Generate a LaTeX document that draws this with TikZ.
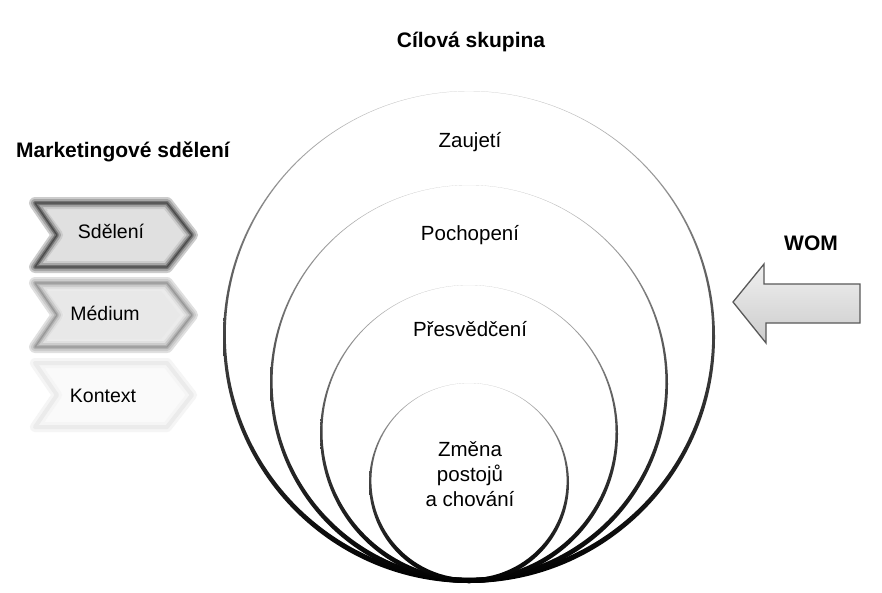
\documentclass[tikz,border=0pt]{standalone}
\usepackage{fontspec}
\setmainfont{Liberation Sans}
\newcommand\chevpath[1]{(35,#1) -- (167,#1) -- (192,#1+32) -- (167,#1+64) -- (35,#1+64) -- (57,#1+32) -- cycle}
\begin{document}
\begin{tikzpicture}[x=1pt,y=-1pt,
  lbl/.style={font=\fontsize{20.5}{25}\selectfont, align=center, inner sep=0pt},
  ttl/.style={font=\fontsize{21}{25}\selectfont\bfseries, inner sep=0pt},
  chevtxt/.style={font=\fontsize{19.5}{23}\selectfont, inner sep=0pt},
  ring/.style={even odd rule, shading=axis, top color=black!22, bottom color=black, middle color=black!75},
  blur/.style={line join=round},
  womarrow/.style={draw=black!65, line width=1.3pt, top color=black!6, bottom color=black!20, line join=miter}
]
\useasboundingbox[fill=white] (0,0) rectangle (882,592);

% nested circles (thick at the bottom, fading at the top)
\shade[ring] (469,337) circle (246pt) (469,334.4) circle (243.2pt);
\shade[ring] (469,384) circle (199pt) (469,381.5) circle (196.4pt);
\shade[ring] (469,434) circle (149pt) (469,431.6) circle (146.5pt);
\shade[ring] (469,483) circle (100pt) (469,480.7) circle (97.6pt);

% chevrons
\fill[black!12] \chevpath{203};
\draw[blur, black!20, line width=12pt] \chevpath{203};
\draw[blur, black!35, line width=8pt] \chevpath{203};
\draw[blur, black!55, line width=4pt] \chevpath{203};
\draw[blur, black!70, line width=1.2pt] \chevpath{203};
\fill[black!12] (47,211) -- (161,211) -- (180,235) -- (161,259) -- (47,259) -- (65,235) -- cycle;

\fill[black!8] \chevpath{283};
\draw[blur, black!12, line width=12pt] \chevpath{283};
\draw[blur, black!20, line width=8pt] \chevpath{283};
\draw[blur, black!30, line width=4pt] \chevpath{283};
\draw[blur, black!40, line width=1.2pt] \chevpath{283};
\fill[black!9] (47,291) -- (161,291) -- (180,315) -- (161,339) -- (47,339) -- (65,315) -- cycle;

\fill[black!2] \chevpath{363};
\draw[blur, black!4, line width=10pt] \chevpath{363};
\draw[blur, black!8, line width=4pt] \chevpath{363};
\fill[black!2] (46,370) -- (160,370) -- (181,395) -- (160,420) -- (46,420) -- (64,395) -- cycle;

% WOM arrow
\path[womarrow] (733,302) -- (764,264) -- (764,284) -- (860,284) -- (860,323) -- (766,323) -- (766,343) -- cycle;

% texts
\node[ttl] (title) at (471,42) {Cílová skupina};
\node[ttl] (mkt) at (123,152) {Marketingové sdělení};
\node[ttl] (womlbl) at (811,243) {WOM};
\node[lbl] (zaujeti) at (470,142) {Zaujetí};
\node[lbl] (pochopeni) at (470,235) {Pochopení};
\node[lbl] (presvedceni) at (470,329) {Přesvědčení};
\node[lbl] (zmena) at (470,474) {Změna\\postojů\\a chování};
\node[chevtxt] (sdeleni) at (111,231) {Sdělení};
\node[chevtxt] (medium) at (105,313) {Médium};
\node[chevtxt] (kontext) at (103,396) {Kontext};
\end{tikzpicture}
\end{document}
